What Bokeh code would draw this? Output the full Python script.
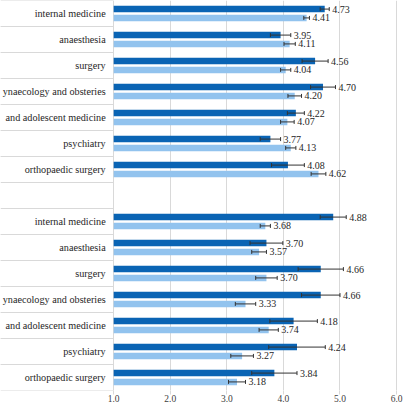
import numpy as np
from bokeh.plotting import figure
from bokeh.models import ColumnDataSource, FactorRange, Range1d, FixedTicker, NumeralTickFormatter
from bokeh.transform import dodge
from bokeh.core.properties import value
from bokeh.embed import file_html
from bokeh.resources import INLINE

groups = ["group 1", "group 2"]
categories = ["internal medicine", "anaesthesia", "surgery", "ynaecology and obsteries",
              "and adolescent medicine", "psychiatry", "orthopaedic surgery"]

g1_dark = [4.73, 3.95, 4.56, 4.70, 4.22, 3.77, 4.08]
g1_dark_err = [0.08, 0.18, 0.23, 0.22, 0.15, 0.18, 0.29]
g1_light = [4.41, 4.11, 4.04, 4.20, 4.07, 4.13, 4.62]
g1_light_err = [0.05, 0.10, 0.09, 0.12, 0.12, 0.09, 0.13]

g2_dark = [4.88, 3.70, 4.66, 4.66, 4.18, 4.24, 3.84]
g2_dark_err = [0.23, 0.29, 0.40, 0.34, 0.42, 0.50, 0.40]
g2_light = [3.68, 3.57, 3.70, 3.33, 3.74, 3.27, 3.18]
g2_light_err = [0.09, 0.13, 0.19, 0.18, 0.17, 0.20, 0.15]

x_ticks = [1.0, 2.0, 3.0, 4.0, 5.0, 6.0]

DARK = "#0A64B4"
LIGHT = "#92C3EE"
GRID = "#D9D9D9"
TEXT = "#262626"
FONT = "'Liberation Serif', 'Times New Roman', serif"

dark_vals = [g1_dark, g2_dark]
dark_errs = [g1_dark_err, g2_dark_err]
light_vals = [g1_light, g2_light]
light_errs = [g1_light_err, g2_light_err]

data = dict(y=[], cat=[], dark=[], dark_lo=[], dark_hi=[], dark_lab=[],
            light=[], light_lo=[], light_hi=[], light_lab=[])
for gi, g in enumerate(groups):
    for ci, c in enumerate(categories):
        d, de = dark_vals[gi][ci], dark_errs[gi][ci]
        l, le = light_vals[gi][ci], light_errs[gi][ci]
        data["y"].append((g, c))
        data["cat"].append(c)
        data["dark"].append(d)
        data["dark_lo"].append(d - de)
        data["dark_hi"].append(d + de)
        data["dark_lab"].append(f"{d:.2f}")
        data["light"].append(l)
        data["light_lo"].append(l - le)
        data["light_hi"].append(l + le)
        data["light_lab"].append(f"{l:.2f}")
src = ColumnDataSource(data)

factors = [(g, c) for g in reversed(groups) for c in reversed(categories)]
y_range = FactorRange(*factors, factor_padding=0, group_padding=1.0, range_padding=0)

X0, X1 = -1.0, 6.14
p = figure(width=404, height=404, y_range=y_range, x_range=Range1d(X0, X1),
           output_backend="svg", toolbar_location=None, y_axis_location=None, min_border=0)
p.outline_line_color = None
p.ygrid.visible = False
p.xgrid.ticker = FixedTicker(ticks=x_ticks)
p.xgrid.grid_line_color = GRID
p.xaxis.ticker = FixedTicker(ticks=x_ticks)
p.xaxis.formatter = NumeralTickFormatter(format="0.0")
p.xaxis.axis_line_color = None
p.xaxis.major_tick_line_color = GRID
p.xaxis.major_tick_out = 4
p.xaxis.major_tick_in = 0
p.xaxis.minor_tick_line_color = None
p.xaxis.major_label_standoff = 0
p.xaxis.major_label_text_font = FONT
p.xaxis.major_label_text_font_size = "9.5px"
p.xaxis.major_label_text_color = "#404040"

OFF = 0.17
H = 0.25
dy_dark = dodge("y", OFF, range=y_range)
dy_light = dodge("y", -OFF, range=y_range)

# separators in the label area
for off in (0.5, -0.5):
    p.segment(x0=X0, x1=1.0, y0=dodge("y", off, range=y_range), y1=dodge("y", off, range=y_range),
              source=src, line_color=GRID, line_width=1)

p.hbar(y=dy_dark, left=1.0, right="dark", height=H, source=src, fill_color=DARK, line_color=None)
p.hbar(y=dy_light, left=1.0, right="light", height=H, source=src, fill_color=LIGHT, line_color=None)

for pre, dy in (("dark", dy_dark), ("light", dy_light)):
    p.segment(x0=pre + "_lo", x1=pre + "_hi", y0=dy, y1=dy, source=src, line_color="#333333", line_width=1)
    for end in ("_lo", "_hi"):
        p.scatter(x=pre + end, y=dy, marker="dash", angle=np.pi / 2, size=4, source=src,
                  line_color="#333333", line_width=1)
    p.text(x=pre + "_hi", y=dy, text=pre + "_lab", source=src, x_offset=3, text_baseline="middle",
           text_font=value(FONT), text_font_size="10px", text_color=TEXT)

p.text(x=1.0, y="y", text="cat", source=src, text_align="right", text_baseline="middle", x_offset=-8,
       text_font=value(FONT), text_font_size="10.2px", text_color=TEXT)

open("out.html", "w").write(file_html(p, INLINE))
